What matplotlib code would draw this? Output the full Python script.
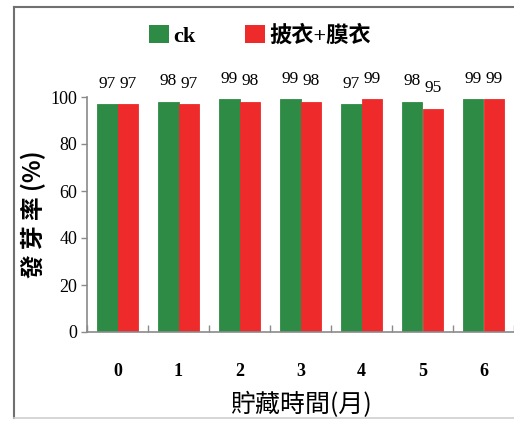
import matplotlib
matplotlib.use("Agg")
import matplotlib.pyplot as plt
from matplotlib.patches import Patch
from matplotlib.lines import Line2D
import numpy as np

plt.rcParams['font.family'] = ['Liberation Serif', 'Noto Sans CJK TC', 'DejaVu Sans']

# storage months and germination rates (%)
months = ['0', '1', '2', '3', '4', '5', '6']
ck = [97, 98, 99, 99, 97, 98, 99]
coated = [97, 97, 98, 98, 99, 95, 99]
series_names = ['ck', '披衣+膜衣']
y_ticks = [0, 20, 40, 60, 80, 100]

green = '#2e8b45'
red = '#ee2a2b'
axis_gray = '#8a8a8a'

fig = plt.figure(figsize=(5.14, 4.22), dpi=100)
ax = fig.add_axes([87 / 514, 1 - 332 / 422, 1 - 87 / 514, (332 - 97) / 422])

x = np.arange(len(months))
w = 0.335
b1 = ax.bar(x - w / 2, ck, width=w, color=green, linewidth=0.6, edgecolor=green)
b2 = ax.bar(x + w / 2, coated, width=w, color=red, linewidth=0.6, edgecolor=red)

# value labels over each bar
for bars, vals in ((b1, ck), (b2, coated)):
    for rect, v in zip(bars, vals):
        ax.annotate(f'{v}', (rect.get_x() + rect.get_width() / 2, v),
                    xytext=(0, 9), textcoords='offset points',
                    ha='center', va='bottom', fontsize=12.5,
                    family='Liberation Serif', annotation_clip=False)

ax.set_xlim(-0.5, len(months) - 0.5)
ax.set_ylim(0, 100)
ax.set_yticks(y_ticks)
ax.set_yticklabels([str(t) for t in y_ticks], fontsize=13)
ax.set_xticks(x)
ax.set_xticklabels(months, fontsize=13, fontweight='bold')
ax.tick_params(axis='x', length=0, pad=22)
ax.set_xticks(np.arange(-0.5, len(months), 1.0), minor=True)
ax.tick_params(axis='x', which='minor', direction='in', length=5,
               color=axis_gray, width=1)
ax.tick_params(axis='y', direction='out', length=4, color=axis_gray,
               width=1, pad=3)

for s in ('top', 'right'):
    ax.spines[s].set_visible(False)
for s in ('left', 'bottom'):
    ax.spines[s].set_color(axis_gray)
    ax.spines[s].set_linewidth(1.2)

ax.set_ylabel('發 芽 率 (%)', fontsize=17, fontweight='bold', labelpad=3,
              family=['Noto Sans CJK TC', 'DejaVu Sans'])
ax.set_xlabel('貯藏時間(月)', fontsize=18, labelpad=9,
              family=['Noto Sans CJK TC', 'DejaVu Sans'])

handles = [Patch(facecolor=green), Patch(facecolor=red)]
fig.legend(handles, series_names, loc='center', bbox_to_anchor=(260 / 514, 1 - 36 / 422),
           ncol=2, frameon=False, handlelength=0.9, handleheight=0.9,
           handletextpad=0.2, columnspacing=2.2,
           prop={'family': ['Liberation Serif', 'Noto Sans CJK TC'], 'size': 16, 'weight': 'bold'})

# outer frame around the figure
fig.add_artist(Line2D([14 / 514, 14 / 514], [4 / 422, 415 / 422], transform=fig.transFigure,
                      color='#707070', lw=1.5))
fig.add_artist(Line2D([14 / 514, 1], [415 / 422, 415 / 422], transform=fig.transFigure,
                      color='#707070', lw=1.5))
fig.add_artist(Line2D([14 / 514, 1], [4 / 422, 4 / 422], transform=fig.transFigure,
                      color='#d0d0d0', lw=1.2))

fig.savefig('out.png', dpi=100)
